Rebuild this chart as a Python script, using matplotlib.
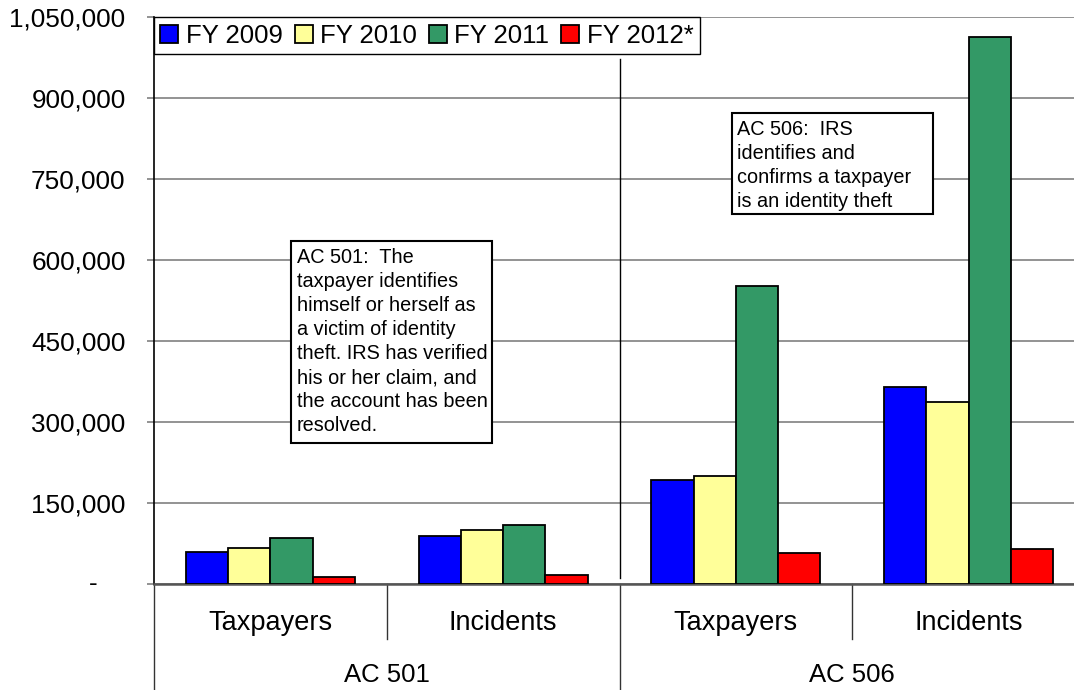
import matplotlib.pyplot as plt
from matplotlib.patches import Rectangle
import numpy as np

plt.rcParams['font.family'] = ['Liberation Sans', 'DejaVu Sans']

# data
categories = ['Taxpayers', 'Incidents', 'Taxpayers', 'Incidents']
groups = ['AC 501', 'AC 506']
series = ['FY 2009', 'FY 2010', 'FY 2011', 'FY 2012*']
fy2009 = [60000, 89000, 193000, 365000]
fy2010 = [68000, 101000, 200000, 338000]
fy2011 = [86000, 110000, 553000, 1013000]
fy2012 = [14000, 17000, 58000, 65000]
colors = ['#0000FF', '#FFFF99', '#339966', '#FF0000']
yticks = [0, 150000, 300000, 450000, 600000, 750000, 900000, 1050000]

note_501 = ("AC 501:  The\ntaxpayer identifies\nhimself or herself as\n"
            "a victim of identity\ntheft. IRS has verified\nhis or her claim, and\n"
            "the account has been\nresolved.")
note_506 = "AC 506:  IRS\nidentifies and\nconfirms a taxpayer\nis an identity theft"

fig = plt.figure(figsize=(10.74, 6.90), dpi=100)
ax = fig.add_axes([154 / 1074, 105.7 / 690, 931 / 1074, 567 / 690])

x = np.arange(len(categories))
w = 0.1817
for i, (vals, name) in enumerate(zip([fy2009, fy2010, fy2011, fy2012], series)):
    ax.bar(x + (i - 1.5) * w, vals, w, color=colors[i], edgecolor='black',
           linewidth=1.3, label=name, zorder=3)

ax.set_xlim(-0.5, 3.5)
ax.set_ylim(0, 1050000)
ax.set_yticks(yticks)
ax.set_yticklabels(['' if v == 0 else f'{v:,}' for v in yticks], fontsize=18.8)
ax.text(-0.0655, 0, '-', transform=ax.get_yaxis_transform(), ha='center',
        va='center', fontsize=18.8)
ax.set_xticks([])
ax.tick_params(axis='y', direction='out', length=5, width=1.2, color='#808080', pad=15.5)
ax.grid(axis='y', color='#808080', linewidth=1.2)
ax.set_axisbelow(True)
for s in ['top', 'right']:
    ax.spines[s].set_visible(False)
ax.spines['left'].set_color('black')
ax.spines['left'].set_linewidth(1.2)
ax.spines['bottom'].set_color('#555555')
ax.spines['bottom'].set_linewidth(1.8)

# separator inside the plot between AC 501 and AC 506
ax.axvline(1.5, ymin=0.011, ymax=0.927, color='black', linewidth=1, zorder=2)

# two-level category axis
xt = ax.get_xaxis_transform()
for xs, ylow in [(-0.5, -0.19), (0.5, -0.0965), (1.5, -0.19), (2.5, -0.0965), (3.5, -0.19)]:
    ax.plot([xs, xs], [0, ylow], transform=xt, color='#333333', linewidth=1,
            clip_on=False)
for xi, lab in zip(x, categories):
    ax.text(xi, -0.0683, lab, transform=xt, ha='center', va='center', fontsize=19.5)
for gi, g in enumerate(groups):
    ax.text(0.5 + 2 * gi, -0.16, g, transform=xt, ha='center', va='center', fontsize=18.5)

# note boxes
ax.add_patch(Rectangle((0.1468, 0.2487), 0.2159, 0.3568, transform=ax.transAxes,
                       facecolor='white', edgecolor='black', linewidth=1.5, zorder=5))
ax.text(0.1533, 0.5935, note_501, transform=ax.transAxes, ha='left', va='top',
        fontsize=14.3, linespacing=1.34, zorder=6)
ax.add_patch(Rectangle((0.6212, 0.6526), 0.2152, 0.1781, transform=ax.transAxes,
                       facecolor='white', edgecolor='black', linewidth=1.5, zorder=5))
ax.text(0.6265, 0.8187, note_506, transform=ax.transAxes, ha='left', va='top',
        fontsize=14.3, linespacing=1.34, zorder=6)

leg = ax.legend(loc='upper left', bbox_to_anchor=(0, 1), borderaxespad=0, ncol=4,
                fontsize=18.5, handlelength=0.7, handleheight=0.7, handletextpad=0.3,
                columnspacing=0.45, borderpad=0.25, fancybox=False, framealpha=1,
                edgecolor='black')
leg.get_frame().set_linewidth(1)
leg.set_zorder(7)

fig.savefig('out.png', dpi=100)
